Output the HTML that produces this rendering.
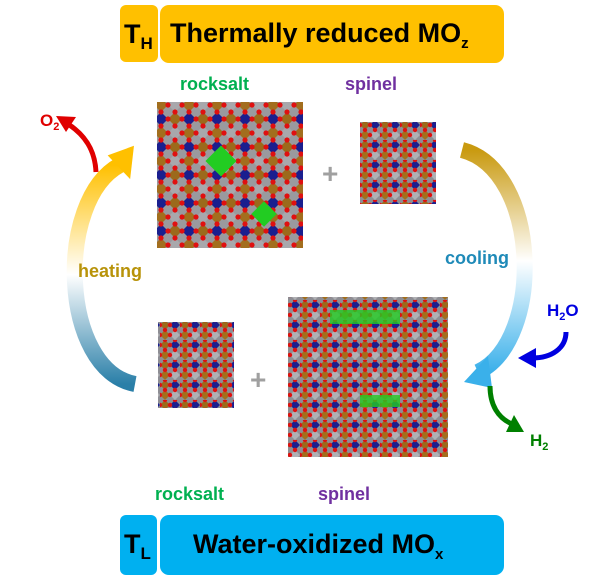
<!DOCTYPE html>
<html><head><meta charset="utf-8"><style>
body{margin:0;background:#fff;width:612px;height:583px;overflow:hidden;font-family:"Liberation Sans",sans-serif}
svg{position:absolute;left:0;top:0}
</style></head><body>
<svg width="612" height="583" viewBox="0 0 612 583" xmlns="http://www.w3.org/2000/svg">
<defs>
<pattern id="cr" width="28" height="28" patternUnits="userSpaceOnUse">
<rect width="28" height="28" fill="#9a9a9e"/>
<polygon points="7,0 14,7 7,14 0,7" fill="#9b6a1c"/>
<polygon points="21,0 28,7 21,14 14,7" fill="#1a1f8f"/>
<polygon points="7,14 14,21 7,28 0,21" fill="#a8a8ac"/>
<polygon points="21,14 28,21 21,28 14,21" fill="#a26e1e"/>
<circle cx="7" cy="0" r="2.6" fill="#e01010"/><circle cx="21" cy="0" r="2.6" fill="#e01010"/>
<circle cx="0" cy="7" r="2.6" fill="#e01010"/><circle cx="14" cy="7" r="2.6" fill="#e01010"/><circle cx="28" cy="7" r="2.6" fill="#e01010"/>
<circle cx="7" cy="14" r="2.6" fill="#e01010"/><circle cx="21" cy="14" r="2.6" fill="#e01010"/>
<circle cx="0" cy="21" r="2.6" fill="#e01010"/><circle cx="14" cy="21" r="2.6" fill="#e01010"/><circle cx="28" cy="21" r="2.6" fill="#e01010"/>
<circle cx="7" cy="28" r="2.6" fill="#e01010"/><circle cx="21" cy="28" r="2.6" fill="#e01010"/>
</pattern>
<pattern id="cs" width="20" height="20" patternUnits="userSpaceOnUse">
<rect width="20" height="20" fill="#8e8e94"/>
<polygon points="5,0 10,5 5,10 0,5" fill="#9b6a1c"/>
<polygon points="15,0 20,5 15,10 10,5" fill="#1a1f8f"/>
<polygon points="5,10 10,15 5,20 0,15" fill="#a26e1e"/>
<polygon points="15,10 20,15 15,20 10,15" fill="#b0b0b4"/>
<circle cx="5" cy="0" r="2.2" fill="#e01010"/><circle cx="15" cy="0" r="2.2" fill="#e01010"/>
<circle cx="0" cy="5" r="2.2" fill="#e01010"/><circle cx="10" cy="5" r="2.2" fill="#e01010"/>
<circle cx="5" cy="10" r="2.2" fill="#e01010"/><circle cx="15" cy="10" r="2.2" fill="#e01010"/>
<circle cx="0" cy="15" r="2.2" fill="#e01010"/><circle cx="10" cy="15" r="2.2" fill="#e01010"/>
</pattern>
<linearGradient id="gl" x1="0" y1="0" x2="0" y2="1"><stop offset="0" stop-color="#ffc000"/><stop offset="0.5" stop-color="#fff"/><stop offset="1" stop-color="#2a7fa8"/></linearGradient>
<linearGradient id="gr" x1="0" y1="0" x2="0" y2="1"><stop offset="0" stop-color="#c99a10"/><stop offset="0.5" stop-color="#fff"/><stop offset="1" stop-color="#3ab0ea"/></linearGradient>
</defs>
<!-- banners -->
<rect x="120" y="5" width="38" height="57" rx="6" fill="#ffc000"/>
<rect x="160" y="5" width="344" height="58" rx="9" fill="#ffc000"/>
<text x="124" y="43" font-size="27" font-weight="bold">T<tspan font-size="17" dy="6">H</tspan></text>
<text x="170" y="42" font-size="27" font-weight="bold">Thermally reduced MO<tspan font-size="15" dy="6">z</tspan></text>
<rect x="120" y="515" width="37" height="60" rx="6" fill="#00b0f0"/>
<rect x="160" y="515" width="344" height="60" rx="9" fill="#00b0f0"/>
<text x="124" y="553" font-size="27" font-weight="bold">T<tspan font-size="17" dy="6">L</tspan></text>
<text x="193" y="553" font-size="27" font-weight="bold">Water-oxidized MO<tspan font-size="15" dy="6">x</tspan></text>
<!-- crystals -->
<rect x="157" y="102" width="146" height="146" fill="url(#cr)"/>
<rect x="210" y="150" width="22" height="22" fill="#22cc22" transform="rotate(45 221 161)"/>
<rect x="255" y="205" width="18" height="18" fill="#22cc22" transform="rotate(45 264 214)"/>
<rect x="360" y="122" width="76" height="82" fill="url(#cs)"/>
<rect x="158" y="322" width="76" height="86" fill="url(#cs)"/>
<rect x="288" y="297" width="160" height="160" fill="url(#cs)"/>
<rect x="330" y="310" width="70" height="14" fill="#22cc22" opacity="0.8"/>
<rect x="360" y="395" width="40" height="12" fill="#22cc22" opacity="0.8"/>
<!-- plus -->
<text x="322" y="183" font-size="28" font-weight="bold" fill="#a0a0a0">+</text>
<text x="250" y="389" font-size="28" font-weight="bold" fill="#a0a0a0">+</text>
<!-- cycle arrows -->
<path d="M135,384 C60,370 55,200 120,165" fill="none" stroke="url(#gl)" stroke-width="16"/>
<polygon points="112,150 140,150 125,180" fill="#ffc000" transform="rotate(-20 125 165)"/>
<path d="M462,150 C540,170 545,340 478,372" fill="none" stroke="url(#gr)" stroke-width="16"/>
<polygon points="464,382 488,356 492,388" fill="#3ab0ea"/>
<!-- side arrows -->
<path d="M96,172 C95,150 85,135 68,124" fill="none" stroke="#e00000" stroke-width="5"/>
<polygon points="56,116 76,117 66,132" fill="#e00000"/>
<path d="M566,332 C566,348 552,358 532,358" fill="none" stroke="#0000e0" stroke-width="5"/>
<polygon points="518,358 536,348 536,368" fill="#0000e0"/>
<path d="M490,386 C490,405 498,418 512,424" fill="none" stroke="#008000" stroke-width="5"/>
<polygon points="524,432 506,432 514,415" fill="#008000"/>
<!-- labels -->
<g font-size="18" font-weight="bold">
<text x="180" y="90" fill="#00b050">rocksalt</text>
<text x="345" y="90" fill="#7030a0">spinel</text>
<text x="155" y="500" fill="#00b050">rocksalt</text>
<text x="318" y="500" fill="#7030a0">spinel</text>
<text x="78" y="277" fill="#b8930a">heating</text>
<text x="445" y="264" fill="#1f8ab8">cooling</text>
<text x="40" y="126" fill="#e00000" font-size="17">O<tspan font-size="11" dy="4">2</tspan></text>
<text x="547" y="316" fill="#0000e0" font-size="17">H<tspan font-size="11" dy="4">2</tspan><tspan dy="-4">O</tspan></text>
<text x="530" y="446" fill="#008000" font-size="17">H<tspan font-size="11" dy="4">2</tspan></text>
</g>
</svg>
</body></html>
